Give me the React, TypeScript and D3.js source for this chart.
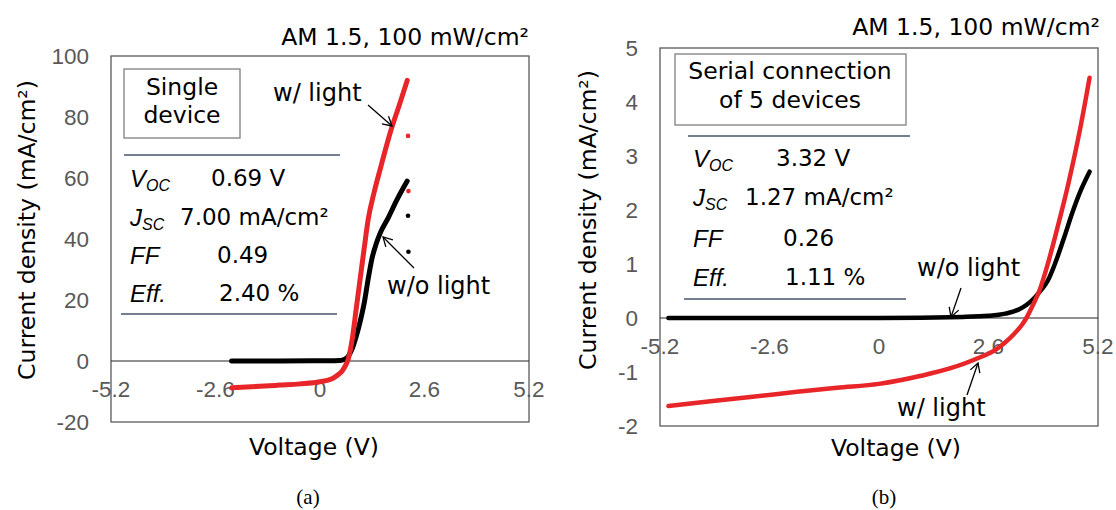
import React from 'react';
import * as d3 from 'd3';

// Panel (a): single device, J-V under light and in dark
const xTicks = [-5.2, -2.6, 0, 2.6, 5.2];
const singleYTicks = [-20, 0, 20, 40, 60, 80, 100];
const singleLightV = [-2.2, -1.5, -1.0, -0.5, 0, 0.3, 0.45, 0.55, 0.62, 0.7, 0.8, 0.9, 1.0, 1.1, 1.2, 1.35, 1.5, 1.75, 2.0, 2.17];
const singleLightJ = [-8.8, -8.3, -7.9, -7.5, -6.8, -5.8, -4.5, -3.3, -1.8, 0.5, 7, 17, 27, 37, 46.5, 55.5, 63, 75, 85, 92];
const singleDarkV = [-2.2, -1.0, 0, 0.5, 0.6, 0.7, 0.8, 0.9, 1.0, 1.1, 1.2, 1.3, 1.4, 1.5, 1.7, 1.9, 2.17];
const singleDarkJ = [0, 0, 0.1, 0.2, 0.5, 1.5, 4, 8, 13, 19, 27, 34, 38.5, 42, 47, 52.5, 59];
const singleStrayLightV = [2.19, 2.2];
const singleStrayLightJ = [73.8, 55.7];
const singleStrayDarkV = [2.19, 2.2];
const singleStrayDarkJ = [47.6, 35.8];
const singleParams = ['0.69 V', '7.00 mA/cm²', '0.49', '2.40 %'];

// Panel (b): serial connection of 5 devices
const serialYTicks = [-2, -1, 0, 1, 2, 3, 4, 5];
const serialLightV = [-5, -4, -3, -2, -1, 0, 1, 1.7, 2.3, 2.8, 3.0, 3.2, 3.4, 3.5, 3.63, 3.83, 4.0, 4.23, 4.5, 4.62, 4.8, 5.0];
const serialLightJ = [-1.63, -1.54, -1.46, -1.37, -1.29, -1.22, -1.07, -0.93, -0.76, -0.57, -0.45, -0.3, -0.12, 0, 0.2, 0.55, 0.98, 1.65, 2.5, 2.92, 3.6, 4.45];
const serialDarkV = [-5, 0, 2, 2.6, 3.0, 3.3, 3.5, 3.7, 3.85, 4.0, 4.2, 4.4, 4.6, 4.8, 5.0];
const serialDarkJ = [0, 0, 0.02, 0.04, 0.08, 0.15, 0.24, 0.38, 0.52, 0.68, 1.05, 1.5, 1.97, 2.38, 2.71];
const serialParams = ['3.32 V', '1.27 mA/cm²', '0.26', '1.11 %'];

const LABEL_FONT = '"DejaVu Sans", sans-serif';
const TICK_FONT = '"Liberation Sans", Arial, sans-serif';
const GRAY = '#595959';
const BLUE = '#44546A';

const zip = (a, b) => a.map((v, i) => [v, b[i]]);

const Panel = ({ L, yTicks, lightV, lightJ, darkV, darkJ, strayLight, strayDark, params, caption }) => {
  const [x0, x1, y0, y1] = L.box;
  const x = d3.scaleLinear().domain([-5.2, 5.2]).range([x0, x1]);
  const y = d3.scaleLinear().domain([yTicks[0], yTicks[yTicks.length - 1]]).range([y1, y0]);
  const line = d3.line().x(d => x(d[0])).y(d => y(d[1])).curve(d3.curveMonotoneX);
  const zy = y(0);
  const labels = ['V', 'J', 'FF', 'Eff.'];
  const subs = ['OC', 'SC', '', ''];

  return (
    <g>
      <text x={L.title[0]} y={L.title[1]} textAnchor="end" dominantBaseline="central"
        fontFamily={LABEL_FONT} fontSize={23.5}>AM 1.5, 100 mW/cm²</text>
      <rect x={x0} y={y0} width={x1 - x0} height={y1 - y0} fill="none" stroke={GRAY} strokeWidth={1.3} />
      <line x1={x0} x2={x1} y1={zy} y2={zy} stroke="#222" strokeWidth={1.1} />

      {yTicks.map(t => (
        <text key={t} x={x0 - 22} y={y(t)} textAnchor="end" dominantBaseline="central"
          fontFamily={TICK_FONT} fontSize={22.5} fill={GRAY}>{t}</text>
      ))}
      {xTicks.map(t => (
        <text key={t} x={x(t)} y={zy + 28} textAnchor="middle" dominantBaseline="central"
          fontFamily={TICK_FONT} fontSize={22.5} fill={GRAY}>{t}</text>
      ))}

      <text transform={`translate(${L.yLabel[0]},${L.yLabel[1]}) rotate(-90)`} textAnchor="middle"
        dominantBaseline="central" fontFamily={LABEL_FONT} fontSize={23.5}>Current density (mA/cm²)</text>
      <text x={L.xLabel[0]} y={L.xLabel[1]} textAnchor="middle" dominantBaseline="central"
        fontFamily={LABEL_FONT} fontSize={23.5}>Voltage (V)</text>
      <text x={L.caption[0]} y={L.caption[1]} textAnchor="middle" dominantBaseline="central"
        fontFamily='"Liberation Serif", serif' fontSize={21}>{caption}</text>

      {/* curves */}
      <path d={line(zip(darkV, darkJ))} fill="none" stroke="#000" strokeWidth={L.lw} strokeLinecap="round" />
      <path d={line(zip(lightV, lightJ))} fill="none" stroke="#e8262a" strokeWidth={L.lw} strokeLinecap="round" />
      {strayDark && zip(strayDark[0], strayDark[1]).map((d, i) => (
        <circle key={'d' + i} cx={x(d[0])} cy={y(d[1])} r={2.3} fill="#000" />
      ))}
      {strayLight && zip(strayLight[0], strayLight[1]).map((d, i) => (
        <circle key={'l' + i} cx={x(d[0])} cy={y(d[1])} r={2.3} fill="#e8262a" />
      ))}

      {/* inset label box */}
      <rect x={L.inset[0]} y={L.inset[1]} width={L.inset[2]} height={L.inset[3]} fill="#fff"
        stroke="#7f7f7f" strokeWidth={1.3} />
      {L.insetText.map((s, i) => (
        <text key={s} x={L.insetX} y={L.insetY[i]} textAnchor="middle" dominantBaseline="central"
          fontFamily={LABEL_FONT} fontSize={23.5}>{s}</text>
      ))}

      {/* parameter table */}
      {L.rules.map((r, i) => (
        <line key={i} x1={r[0]} x2={r[1]} y1={r[2]} y2={r[2]} stroke={BLUE} strokeWidth={1.6} />
      ))}
      {labels.map((s, i) => (
        <text key={s} x={L.tableX} y={L.rowsY[i]} dominantBaseline="central"
          fontFamily={TICK_FONT} fontSize={24} fontStyle="italic">
          {s}
          {subs[i] && <tspan fontSize={16} dy={7}>{subs[i]}</tspan>}
        </text>
      ))}
      {params.map((s, i) => (
        <text key={s} x={L.valueX[i]} y={L.rowsY[i]} dominantBaseline="central"
          fontFamily={LABEL_FONT} fontSize={23}>{s}</text>
      ))}

      {/* annotations */}
      <text x={L.lightText[0]} y={L.lightText[1]} dominantBaseline="central"
        fontFamily={LABEL_FONT} fontSize={24}>w/ light</text>
      <text x={L.darkText[0]} y={L.darkText[1]} dominantBaseline="central"
        fontFamily={LABEL_FONT} fontSize={24}>w/o light</text>
      {[L.lightArrow, L.darkArrow].map((a, i) => (
        <line key={i} x1={a[0]} y1={a[1]} x2={a[2]} y2={a[3]} stroke="#000" strokeWidth={1.3}
          markerEnd="url(#openArrow)" />
      ))}
    </g>
  );
};

const singleLayout = {
  box: [111, 529, 56, 422],
  title: [529, 37],
  yLabel: [27, 230],
  xLabel: [314, 447],
  caption: [308, 497],
  lw: 5,
  inset: [124, 69, 116, 69],
  insetText: ['Single', 'device'],
  insetX: 182,
  insetY: [87, 115],
  rules: [[124, 340, 155], [121, 337, 314]],
  tableX: 130,
  rowsY: [178, 217, 255, 293],
  valueX: [211, 180, 217, 219],
  lightText: [273, 93],
  lightArrow: [368, 105, 392, 126],
  darkText: [387, 286],
  darkArrow: [414, 268, 383, 237],
};

const serialLayout = {
  box: [660, 1098, 48, 426],
  title: [1100, 27],
  yLabel: [588, 220],
  xLabel: [896, 448],
  caption: [884, 497],
  lw: 4.5,
  inset: [675, 54, 231, 71],
  insetText: ['Serial connection', 'of 5 devices'],
  insetX: 790,
  insetY: [71, 100],
  rules: [[688, 910, 136], [684, 906, 299]],
  tableX: 693,
  rowsY: [158, 197, 238, 277],
  valueX: [776, 745, 783, 785],
  lightText: [897, 408],
  lightArrow: [967, 395, 978, 363],
  darkText: [917, 268],
  darkArrow: [961, 288, 951, 317],
};

const App = () => (
  <svg width={1116} height={510} style={{ position: 'absolute', left: 0, top: 0, background: '#fff' }}>
    <defs>
      <marker id="openArrow" markerUnits="userSpaceOnUse" markerWidth={20} markerHeight={20}
        refX={10} refY={10} orient="auto" viewBox="0 0 20 20">
        <path d="M1,5 L10,10 L1,15" fill="none" stroke="#000" strokeWidth={1.3} />
      </marker>
    </defs>
    <rect width={1116} height={510} fill="#fff" />
    <Panel L={singleLayout} yTicks={singleYTicks} lightV={singleLightV} lightJ={singleLightJ}
      darkV={singleDarkV} darkJ={singleDarkJ}
      strayLight={[singleStrayLightV, singleStrayLightJ]} strayDark={[singleStrayDarkV, singleStrayDarkJ]}
      params={singleParams} caption="(a)" />
    <Panel L={serialLayout} yTicks={serialYTicks} lightV={serialLightV} lightJ={serialLightJ}
      darkV={serialDarkV} darkJ={serialDarkJ} params={serialParams} caption="(b)" />
  </svg>
);

export default App;
